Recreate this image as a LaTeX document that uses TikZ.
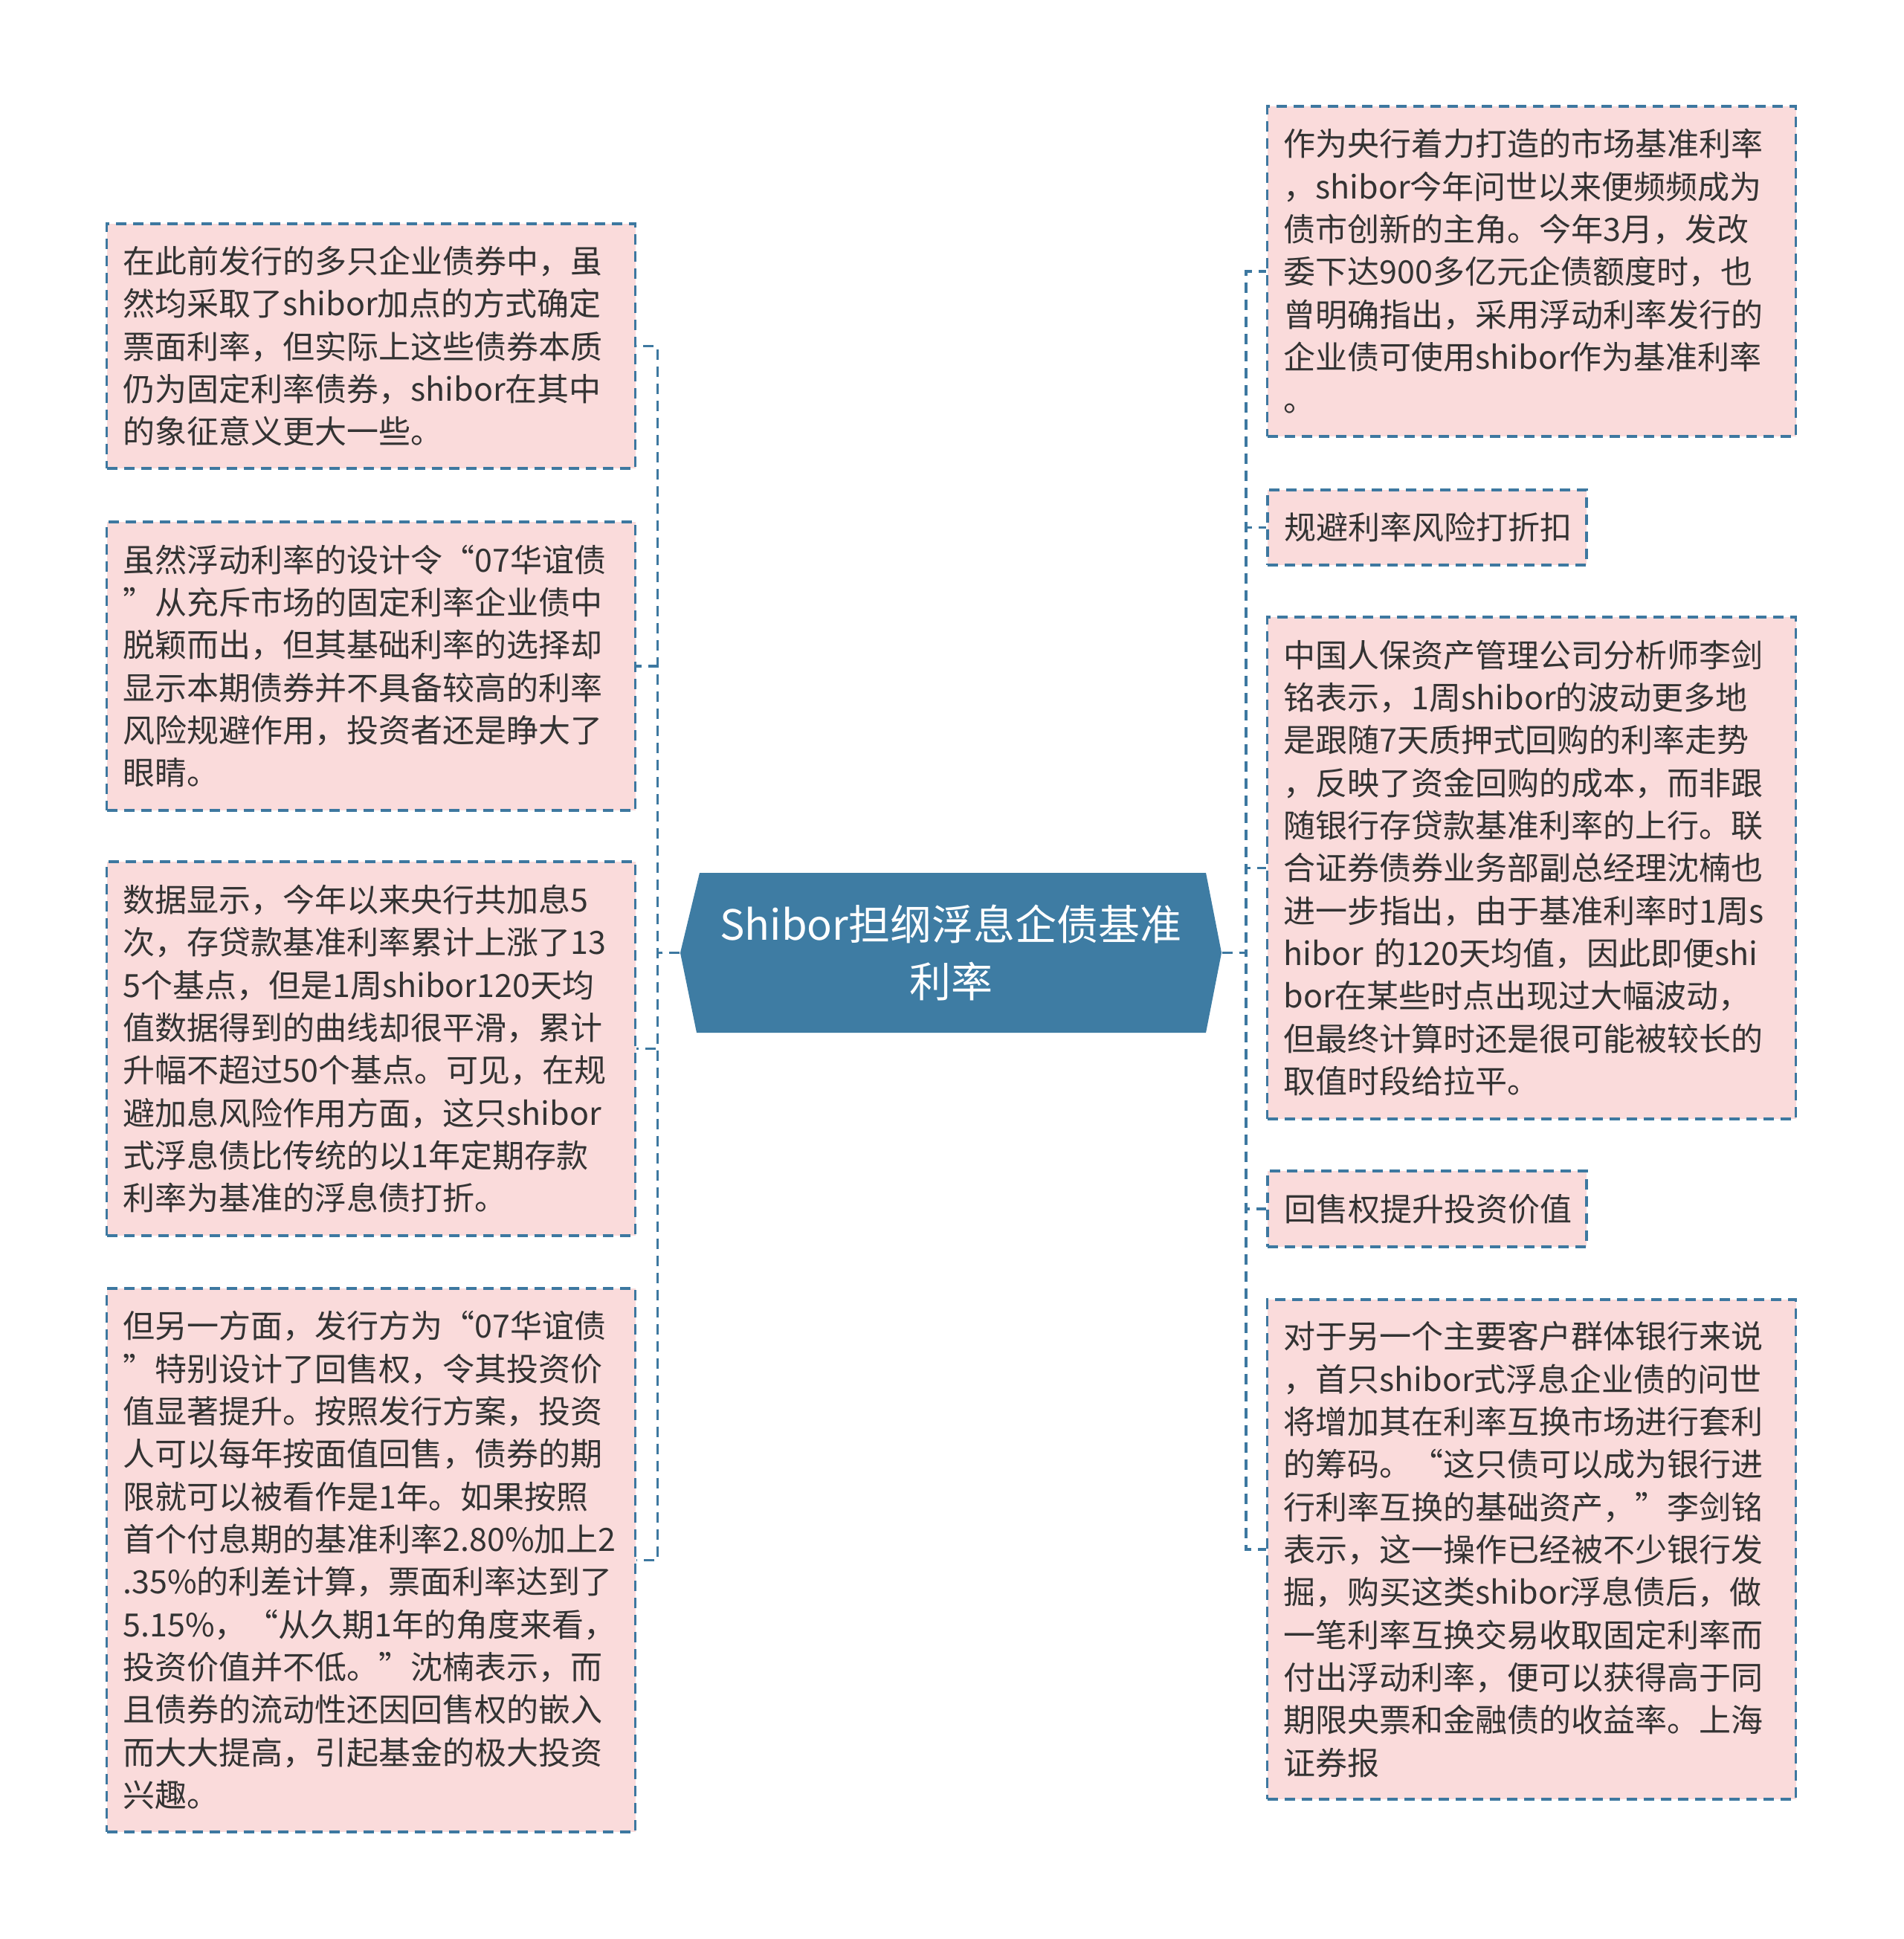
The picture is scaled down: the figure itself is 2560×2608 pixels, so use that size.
\documentclass[tikz,border=0pt]{standalone}
\usepackage{fontspec}
\setmainfont{Noto Sans CJK SC}
\definecolor{boxfill}{HTML}{FADBDB}
\definecolor{bordc}{HTML}{3D78A0}
\definecolor{ctrfill}{HTML}{3E7CA3}
\definecolor{txt}{HTML}{333333}
\newcommand{\bodyfont}{\fontsize{12.9pt}{17.2pt}\selectfont}
\newcommand{\ctrfont}{\fontsize{16.8pt}{23pt}\selectfont}
\begin{document}
\begin{tikzpicture}[x=0.3pt,y=-0.3pt,
  box/.style={rectangle, draw=bordc, line width=1.1pt, dash pattern=on 4.2pt off 2.7pt,
    fill=boxfill, text=txt, font=\bodyfont, align=left, inner xsep=6.6pt, inner ysep=0pt},
  bigbox/.style={box, minimum width=213.3pt, text width=200.1pt},
  smallbox/.style={box, minimum width=128.7pt, text width=115.5pt},
  conn/.style={draw=bordc, line width=1.1pt, dash pattern=on 4.2pt off 2.7pt},
  ctr/.style={rectangle, minimum width=218.4pt, minimum height=64.5pt, inner sep=0pt,
    text=white, font=\ctrfont, align=center}]
\fill[white] (0,0) rectangle (2560,2608);
\useasboundingbox (0,0) rectangle (2560,2608);
% central shape
\fill[ctrfill] (915,1281.5) -- (941,1174) -- (1622,1174) -- (1643,1281.5) -- (1622,1389) -- (937,1389) -- cycle;
\node[ctr] (centre) at (1279,1281.5) {Shibor担纲浮息企债基准\\利率};
% left boxes
\node[bigbox, minimum height=98.7pt] (L1) at (499,465.5) {在此前发行的多只企业债券中，虽\\然均采取了shibor加点的方式确定\\票面利率，但实际上这些债券本质\\仍为固定利率债券，shibor在其中\\的象征意义更大一些。};
\node[bigbox, minimum height=116.4pt] (L2) at (499,896) {虽然浮动利率的设计令“07华谊债\\”从充斥市场的固定利率企业债中\\脱颖而出，但其基础利率的选择却\\显示本期债券并不具备较高的利率\\风险规避作用，投资者还是睁大了\\眼睛。};
\node[bigbox, minimum height=150.9pt] (L3) at (499,1410.5) {数据显示，今年以来央行共加息5\\次，存贷款基准利率累计上涨了13\\5个基点，但是1周shibor120天均\\值数据得到的曲线却很平滑，累计\\升幅不超过50个基点。可见，在规\\避加息风险作用方面，这只shibor\\式浮息债比传统的以1年定期存款\\利率为基准的浮息债打折。};
\node[bigbox, minimum height=219.3pt] (L4) at (499,2098.5) {但另一方面，发行方为“07华谊债\\”特别设计了回售权，令其投资价\\值显著提升。按照发行方案，投资\\人可以每年按面值回售，债券的期\\限就可以被看作是1年。如果按照\\首个付息期的基准利率2.80\%加上2\\.35\%的利差计算，票面利率达到了\\5.15\%，“从久期1年的角度来看，\\投资价值并不低。”沈楠表示，而\\且债券的流动性还因回售权的嵌入\\而大大提高，引起基金的极大投资\\兴趣。};
% right boxes
\node[bigbox, minimum height=133.2pt] (R1) at (2060,365) {作为央行着力打造的市场基准利率\\，shibor今年问世以来便频频成为\\债市创新的主角。今年3月，发改\\委下达900多亿元企债额度时，也\\曾明确指出，采用浮动利率发行的\\企业债可使用shibor作为基准利率\\。};
\node[smallbox, minimum height=30.3pt] (R2) at (1919.5,709.5) {规避利率风险打折扣};
\node[bigbox, minimum height=202.5pt] (R3) at (2060,1167.5) {中国人保资产管理公司分析师李剑\\铭表示，1周shibor的波动更多地\\是跟随7天质押式回购的利率走势\\，反映了资金回购的成本，而非跟\\随银行存贷款基准利率的上行。联\\合证券债券业务部副总经理沈楠也\\进一步指出，由于基准利率时1周s\\hibor 的120天均值，因此即便shi\\bor在某些时点出现过大幅波动，\\但最终计算时还是很可能被较长的\\取值时段给拉平。};
\node[smallbox, minimum height=30.6pt] (R4) at (1919.5,1626) {回售权提升投资价值};
\node[bigbox, minimum height=201.6pt] (R5) at (2060,2084) {对于另一个主要客户群体银行来说\\，首只shibor式浮息企业债的问世\\将增加其在利率互换市场进行套利\\的筹码。“这只债可以成为银行进\\行利率互换的基础资产，”李剑铭\\表示，这一操作已经被不少银行发\\掘，购买这类shibor浮息债后，做\\一笔利率互换交易收取固定利率而\\付出浮动利率，便可以获得高于同\\期限央票和金融债的收益率。上海\\证券报};
% connectors
\foreach \b in {L1,L2,L3,L4} \draw[conn] (centre.west) -- ++(-30,0) |- (\b.east);
\foreach \b in {R1,R2,R3,R4,R5} \draw[conn] (centre.east) -- ++(32,0) |- (\b.west);
\end{tikzpicture}
\end{document}
